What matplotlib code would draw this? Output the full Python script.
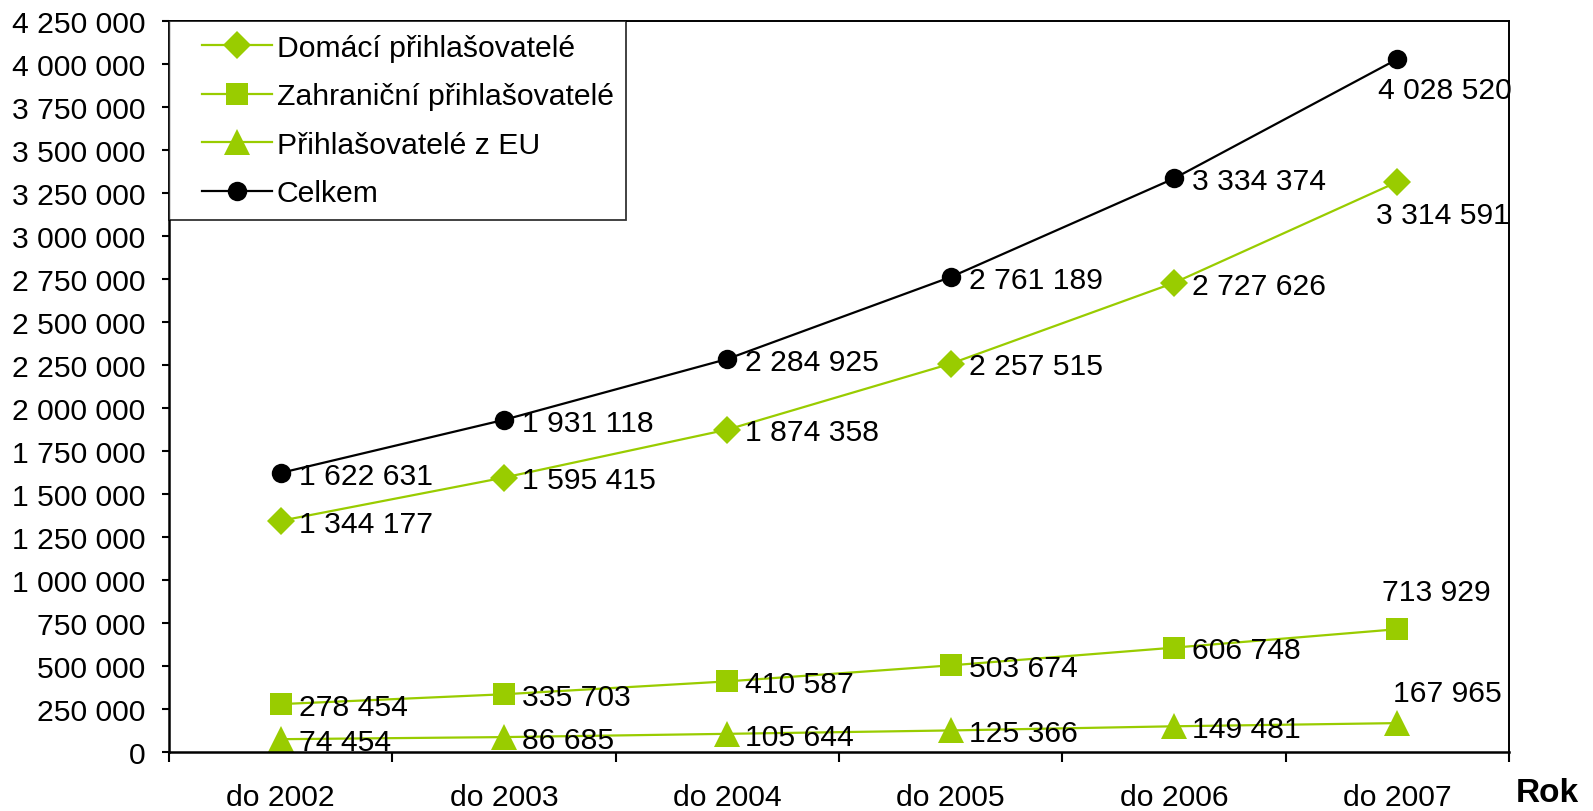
import matplotlib
matplotlib.use("Agg")
import matplotlib.pyplot as plt
from matplotlib.ticker import FuncFormatter
from matplotlib.lines import Line2D
from matplotlib.legend_handler import HandlerLine2D

plt.rcParams['font.family'] = ['Liberation Sans', 'DejaVu Sans']

years = ['do 2002', 'do 2003', 'do 2004', 'do 2005', 'do 2006', 'do 2007']
domaci = [1344177, 1595415, 1874358, 2257515, 2727626, 3314591]
zahranicni = [278454, 335703, 410587, 503674, 606748, 713929]
eu = [74454, 86685, 105644, 125366, 149481, 167965]
celkem = [1622631, 1931118, 2284925, 2761189, 3334374, 4028520]


def fmt(v, pos=None):
        return '{:,}'.format(int(v)).replace(',', ' ')


green = '#99cc00'
fs = 21.7

fig = plt.figure(figsize=(15.93, 8.12), dpi=100)
ax = fig.add_axes([169 / 1593, 1 - 753 / 812, 1340 / 1593, 731 / 812])

x = list(range(len(years)))
series = [
        (domaci, 'Domácí přihlašovatelé', green, 'D', 14),
        (zahranicni, 'Zahraniční přihlašovatelé', green, 's', 16.5),
        (eu, 'Přihlašovatelé z EU', green, '^', 18.5),
        (celkem, 'Celkem', 'black', 'o', 14),
]
for vals, name, col, mk, ms in series:
        ax.plot(x, vals, color=col, lw=1.6, marker=mk, markersize=ms,
                markeredgewidth=0, label=name, clip_on=False)

# popisky hodnot
last_off = {0: (33, -24), 1: (28, 27), 2: (36, 22), 3: (34, -22)}
for k, (vals, name, col, mk, ms) in enumerate(series):
        for i, v in enumerate(vals[:-1]):
                ax.annotate(fmt(v), (i, v), xytext=(13, -2), textcoords='offset points',
                            ha='left', va='center', fontsize=fs)
        ax.annotate(fmt(vals[-1]), (5, vals[-1]), xytext=last_off[k], textcoords='offset points',
                    ha='center', va='center', fontsize=fs)

ax.set_xlim(-0.5, 5.5)
ax.set_ylim(0, 4250000)
ax.set_yticks(range(0, 4250001, 250000))
ax.yaxis.set_major_formatter(FuncFormatter(fmt))
ax.tick_params(axis='y', direction='out', length=5, width=1.5, pad=12, labelsize=fs)

ax.set_xticks([i - 0.5 for i in range(7)])
ax.set_xticklabels([])
ax.set_xticks(x, minor=True)
ax.set_xticklabels(years, minor=True)
ax.tick_params(axis='x', which='major', direction='out', length=7, width=1.5)
ax.tick_params(axis='x', which='minor', length=0, pad=22, labelsize=fs)

for s in ('left', 'bottom'):
        ax.spines[s].set_linewidth(1.8)
for s in ('top', 'right'):
        ax.spines[s].set_linewidth(1.4)

leg = ax.legend(loc='upper left', bbox_to_anchor=(0, 1), borderaxespad=0,
                fontsize=fs, frameon=True, fancybox=False, edgecolor='black',
                handlelength=3.0, handletextpad=0.15, labelspacing=0.68,
                borderpad=0.42, handler_map={Line2D: HandlerLine2D(xpad=0.68)})
leg.get_frame().set_linewidth(1.3)

fig.text(1516 / 1593, 1 - 802 / 812, 'Rok', fontsize=24, fontweight='bold',
         ha='left', va='baseline')

fig.savefig('out.png', dpi=100)
